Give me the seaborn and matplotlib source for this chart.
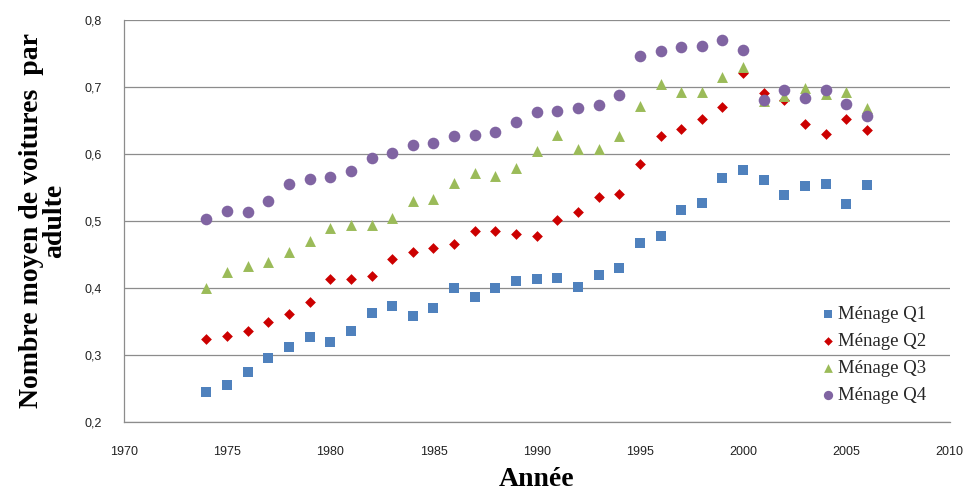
import matplotlib
matplotlib.use("Agg")
import matplotlib.pyplot as plt
import seaborn as sns
import pandas as pd
from matplotlib.ticker import FixedLocator

years = list(range(1974, 2007))
q1 = [0.245, 0.255, 0.275, 0.295, 0.312, 0.327, 0.319, 0.335, 0.363, 0.373, 0.358,
      0.370, 0.400, 0.386, 0.400, 0.411, 0.414, 0.415, 0.402, 0.420, 0.429, 0.467,
      0.477, 0.516, 0.527, 0.564, 0.576, 0.561, 0.539, 0.552, 0.555, 0.525, 0.554]
q2 = [0.324, 0.329, 0.336, 0.349, 0.361, 0.379, 0.414, 0.413, 0.418, 0.443, 0.453,
      0.460, 0.466, 0.485, 0.485, 0.480, 0.477, 0.501, 0.514, 0.535, 0.540, 0.585,
      0.627, 0.637, 0.652, 0.670, 0.720, 0.691, 0.681, 0.645, 0.630, 0.652, 0.635]
q3 = [0.400, 0.424, 0.432, 0.438, 0.453, 0.470, 0.490, 0.494, 0.494, 0.504, 0.529,
      0.532, 0.556, 0.572, 0.567, 0.579, 0.604, 0.628, 0.608, 0.608, 0.627, 0.671,
      0.704, 0.692, 0.692, 0.714, 0.730, 0.679, 0.687, 0.698, 0.690, 0.692, 0.668]
q4 = [0.503, 0.515, 0.513, 0.529, 0.555, 0.562, 0.566, 0.575, 0.594, 0.601, 0.613,
      0.616, 0.627, 0.628, 0.633, 0.647, 0.662, 0.664, 0.668, 0.673, 0.688, 0.746,
      0.754, 0.760, 0.761, 0.770, 0.755, 0.681, 0.695, 0.683, 0.695, 0.675, 0.657]
series_names = ["Ménage Q1", "Ménage Q2", "Ménage Q3", "Ménage Q4"]
y_ticks = [0.2, 0.3, 0.4, 0.5, 0.6, 0.7, 0.8]
y_tick_labels = ["0,2", "0,3", "0,4", "0,5", "0,6", "0,7", "0,8"]
x_ticks = [1970, 1975, 1980, 1985, 1990, 1995, 2000, 2005, 2010]

colors = {"Ménage Q1": "#4F81BD", "Ménage Q2": "#CC0000",
          "Ménage Q3": "#9BBB59", "Ménage Q4": "#8064A2"}
markers = {"Ménage Q1": "s", "Ménage Q2": "D", "Ménage Q3": "^", "Ménage Q4": "o"}
sizes = {"Ménage Q1": 58, "Ménage Q2": 30, "Ménage Q3": 62, "Ménage Q4": 70}

frames = []
for name, vals in zip(series_names, [q1, q2, q3, q4]):
    frames.append(pd.DataFrame({"Année": years, "val": vals, "serie": name}))
df = pd.concat(frames, ignore_index=True)

sns.set_theme(style="white")
fig = plt.figure(figsize=(9.67, 4.95), dpi=100)
ax = fig.add_axes([0.128, 0.1475, 0.854, 0.8125])

for name in series_names:
    sub = df[df["serie"] == name]
    sns.scatterplot(data=sub, x="Année", y="val", ax=ax, color=colors[name],
                    marker=markers[name], s=sizes[name], linewidth=0,
                    label=name, zorder=3)

ax.set_xlim(1970, 2010)
ax.set_ylim(0.2, 0.8)
ax.xaxis.set_major_locator(FixedLocator(x_ticks))
ax.set_xticklabels([str(t) for t in x_ticks])
ax.yaxis.set_major_locator(FixedLocator(y_ticks))
ax.set_yticklabels(y_tick_labels)
ax.grid(axis="y", color="#8C8C8C", linewidth=0.9, zorder=0)
ax.grid(axis="x", visible=False)
ax.set_axisbelow(True)
for side in ["top", "right"]:
    ax.spines[side].set_visible(False)
for side in ["left", "bottom"]:
    ax.spines[side].set_color("#8C8C8C")
    ax.spines[side].set_linewidth(0.9)
ax.tick_params(axis="x", direction="out", length=5, color="#8C8C8C", width=0.9,
               labelsize=9, labelcolor="#222222", pad=12)
ax.tick_params(axis="y", direction="out", length=0, labelsize=9,
               labelcolor="#222222", pad=16)
for lbl in ax.get_xticklabels() + ax.get_yticklabels():
    lbl.set_family("Liberation Sans")

ax.set_xlabel("Année", fontfamily="Liberation Serif", fontweight="bold",
              fontsize=20, color="black")
ax.xaxis.set_label_coords(0.5, -0.112)
ax.set_ylabel("Nombre moyen de voitures  par\nadulte", fontfamily="Liberation Serif",
              fontweight="bold", fontsize=20, color="black",
              linespacing=0.95)
ax.yaxis.set_label_coords(-0.068, 0.5)

leg = ax.legend(loc="upper left", bbox_to_anchor=(0.847, 0.383),
                bbox_transform=fig.transFigure, frameon=False,
                prop={"family": "Liberation Serif", "size": 13.5},
                handletextpad=0.0, handlelength=1.0, labelspacing=0.53,
                borderpad=0.0, borderaxespad=0.0, markerscale=0.8)

fig.savefig("out.png", dpi=100)
